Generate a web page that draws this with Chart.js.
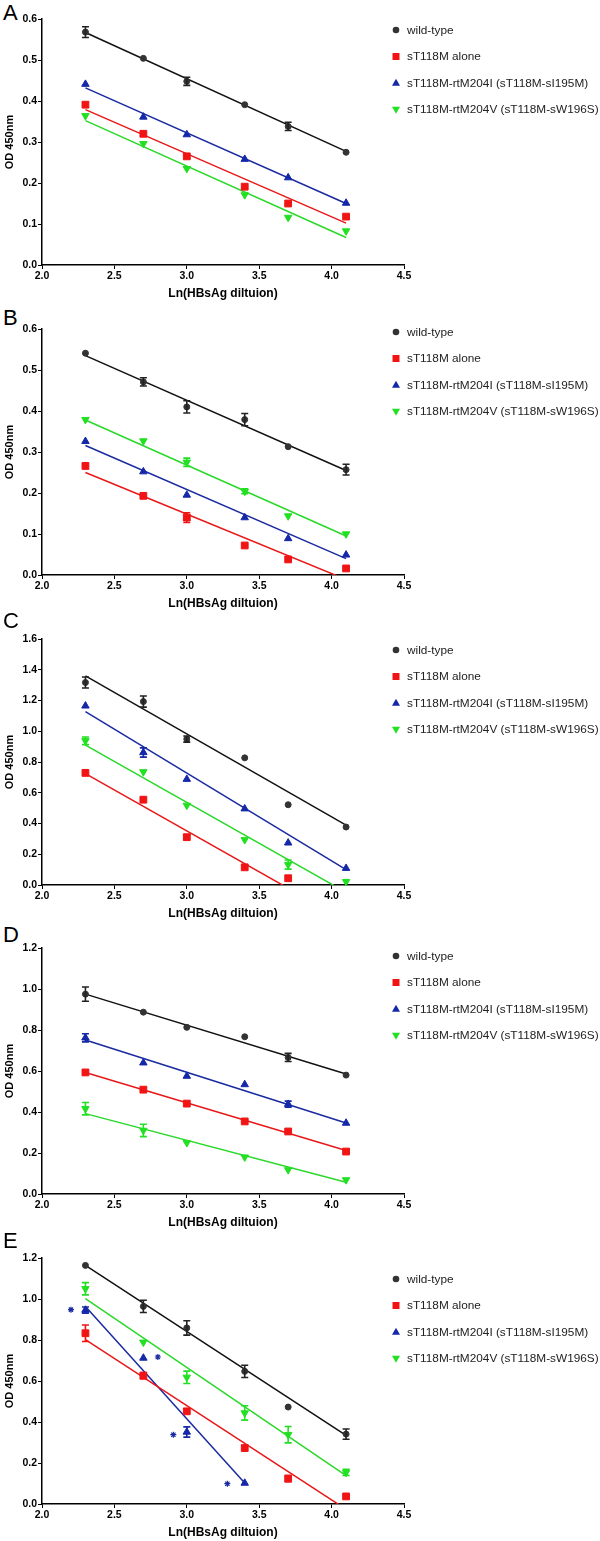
<!DOCTYPE html>
<html>
<head>
<meta charset="utf-8">
<script src="https://cdn.jsdelivr.net/npm/chart.js@4.4.1/dist/chart.umd.min.js"></script>
<style>
  body { margin: 0; background: #fff; width: 600px; height: 1541px; position: relative; overflow: hidden;
         font-family: "Liberation Sans", Arial, sans-serif; }
  .panel { position: absolute; left: 0; }
  .letter { position: absolute; left: 3px; font-size: 22px; line-height: 22px; color: #000; }
</style>
</head>
<body>
<script>
// ---- data ----
const xValues = [2.3, 2.7, 3.0, 3.4, 3.7, 4.1];
const seriesNames = ['wild-type', 'sT118M alone', 'sT118M-rtM204I (sT118M-sI195M)', 'sT118M-rtM204V (sT118M-sW196S)'];
const panelLetters = ['A', 'B', 'C', 'D', 'E'];
const yMaxByPanel = [0.6, 0.6, 1.6, 1.2, 1.2];
const yStepByPanel = [0.1, 0.1, 0.2, 0.2, 0.2];
const xTicks = [2.0, 2.5, 3.0, 3.5, 4.0, 4.5];

// one row per panel (A..E), one value per dilution
const wildType = [
  [0.568, 0.504, 0.448, 0.391, 0.338, 0.275],
  [0.541, 0.471, 0.410, 0.379, 0.313, 0.257],
  [1.317, 1.193, 0.949, 0.827, 0.522, 0.377],
  [0.975, 0.887, 0.813, 0.767, 0.666, 0.580],
  [1.164, 0.964, 0.859, 0.647, 0.473, 0.341]
];
const wildTypeErr = [
  [0.013, 0, 0.010, 0, 0.010, 0],
  [0, 0.010, 0.015, 0.015, 0, 0.013],
  [0.036, 0.036, 0.020, 0, 0, 0],
  [0.035, 0, 0, 0, 0.020, 0],
  [0, 0.030, 0.035, 0.030, 0, 0.025]
];
const alone = [
  [0.391, 0.320, 0.265, 0.191, 0.150, 0.118],
  [0.266, 0.193, 0.140, 0.072, 0.038, 0.016],
  [0.729, 0.555, 0.311, 0.115, 0.044, null],
  [0.593, 0.509, 0.441, 0.354, 0.305, 0.207],
  [0.833, 0.626, 0.452, 0.273, 0.124, 0.037]
];
const aloneErr = [
  [0, 0, 0, 0, 0, 0],
  [0, 0, 0.012, 0, 0, 0],
  [0, 0, 0.015, 0, 0, 0],
  [0, 0, 0, 0, 0, 0],
  [0.040, 0.015, 0, 0, 0.015, 0]
];
const rtM204I = [
  [0.441, 0.361, 0.318, 0.258, 0.213, 0.151],
  [0.326, 0.252, 0.195, 0.140, 0.089, 0.049],
  [1.165, 0.862, 0.688, 0.496, 0.274, 0.109],
  [0.762, 0.640, 0.575, 0.534, 0.438, 0.346],
  [0.946, 0.712, 0.351, 0.102, null, null]
];
const rtM204IErr = [
  [0, 0, 0, 0, 0, 0],
  [0, 0, 0, 0, 0, 0],
  [0, 0.030, 0, 0, 0, 0],
  [0.020, 0, 0, 0, 0.015, 0],
  [0.015, 0, 0.025, 0, 0, 0]
];
const rtM204V = [
  [0.364, 0.296, 0.235, 0.171, 0.116, 0.083],
  [0.379, 0.327, 0.275, 0.204, 0.144, 0.100],
  [0.938, 0.736, 0.518, 0.294, 0.133, 0.022],
  [0.416, 0.310, 0.250, 0.180, 0.118, 0.069],
  [1.050, 0.789, 0.618, 0.444, 0.338, 0.154]
];
const rtM204VErr = [
  [0, 0, 0, 0, 0, 0],
  [0, 0, 0.010, 0.006, 0, 0],
  [0.025, 0, 0, 0, 0.030, 0],
  [0.030, 0.030, 0, 0, 0, 0],
  [0.030, 0, 0.030, 0.035, 0.040, 0.015]
];

// fitted lines: [x start, y start, x end, y end]
const wildTypeFit = [[2.3, 0.567, 4.1, 0.277], [2.3, 0.535, 4.1, 0.255], [2.3, 1.36, 4.1, 0.39], [2.3, 0.975, 4.1, 0.585], [2.3, 1.164, 4.1, 0.335]];
const aloneFit = [[2.3, 0.379, 4.1, 0.102], [2.3, 0.25, 4.1, -0.011], [2.3, 0.725, 4.1, -0.234], [2.3, 0.593, 4.1, 0.212], [2.3, 0.802, 4.1, -0.026]];
const rtM204IFit = [[2.3, 0.432, 4.1, 0.150], [2.3, 0.316, 4.1, 0.040], [2.3, 1.128, 4.1, 0.100], [2.3, 0.751, 4.1, 0.346], [2.3, 0.964, 3.4, 0.102]];
const rtM204VFit = [[2.3, 0.352, 4.1, 0.067], [2.3, 0.378, 4.1, 0.095], [2.3, 0.91, 4.1, -0.048], [2.3, 0.392, 4.1, 0.057], [2.3, 1.002, 4.1, 0.138]];

// significance asterisks, panel E only
const starX = [2.20, 2.80, 2.907, 3.28];
const starY = [0.948, 0.717, 0.338, 0.099];

// ---- styling / layout ----
const markerColors = ['#333333', '#f01414', '#1428a8', '#22e022'];
const lineColors = ['#111111', '#e81818', '#1a2aa0', '#2ad82a'];
const pointStyles = ['circle', 'rect', 'triangle', 'triangle'];
const pointRotations = [0, 0, 0, 180];
const pointRadii = [3, 4.8, 4.3, 4.3];
const canvasTops = [0, 310, 620, 929, 1239];
const letterTops = [2, 307, 610, 924, 1230];
const legendTops = [30, 22, 30, 27, 40];

const allValues = [wildType, alone, rtM204I, rtM204V];
const allErrs = [wildTypeErr, aloneErr, rtM204IErr, rtM204VErr];
const allFits = [wildTypeFit, aloneFit, rtM204IFit, rtM204VFit];

function drawMarker(ctx, k, x, y) {
  ctx.save();
  ctx.fillStyle = markerColors[k];
  ctx.beginPath();
  if (k === 0) {
    ctx.arc(x, y, 3.3, 0, Math.PI * 2);
  } else if (k === 1) {
    ctx.rect(x - 3.5, y - 3.5, 7, 7);
  } else if (k === 2) {
    ctx.moveTo(x, y - 4.2); ctx.lineTo(x + 4, y + 2.8); ctx.lineTo(x - 4, y + 2.8);
  } else {
    ctx.moveTo(x, y + 4.2); ctx.lineTo(x + 4, y - 2.8); ctx.lineTo(x - 4, y - 2.8);
  }
  ctx.closePath();
  ctx.fill();
  ctx.restore();
}

const errorBarPlugin = {
  id: 'errorBars',
  afterDatasetsDraw(chart) {
    const ctx = chart.ctx;
    const xs = chart.scales.x, ys = chart.scales.y;
    chart.data.datasets.forEach(ds => {
      if (!ds.errors) return;
      ctx.save();
      ctx.strokeStyle = ds.errColor;
      ctx.lineWidth = 1.6;
      ds.data.forEach((pt, i) => {
        const e = ds.errors[i];
        if (pt.y === null || !e) return;
        const px = xs.getPixelForValue(pt.x);
        const top = ys.getPixelForValue(pt.y + e);
        const bot = ys.getPixelForValue(pt.y - e);
        ctx.beginPath();
        ctx.moveTo(px, top); ctx.lineTo(px, bot);
        ctx.moveTo(px - 3.5, top); ctx.lineTo(px + 3.5, top);
        ctx.moveTo(px - 3.5, bot); ctx.lineTo(px + 3.5, bot);
        ctx.stroke();
      });
      ctx.restore();
    });
  }
};

const sideLegendPlugin = {
  id: 'sideLegend',
  afterDraw(chart) {
    const ctx = chart.ctx;
    const top = chart.options.plugins.sideLegend.top;
    ctx.save();
    ctx.font = '11.8px "Liberation Sans", Arial, sans-serif';
    ctx.textBaseline = 'middle';
    seriesNames.forEach((name, k) => {
      const y = top + k * 26.5;
      drawMarker(ctx, k, 396, y);
      ctx.fillStyle = '#222';
      ctx.fillText(name, 407, y + 0.5);
    });
    ctx.restore();
  }
};

function buildPanel(p) {
  const letter = document.createElement('div');
  letter.className = 'letter';
  letter.style.top = letterTops[p] + 'px';
  letter.textContent = panelLetters[p];
  document.body.appendChild(letter);

  const canvas = document.createElement('canvas');
  canvas.className = 'panel';
  canvas.width = 600;
  canvas.height = 302;
  canvas.style.top = canvasTops[p] + 'px';
  document.body.appendChild(canvas);

  const datasets = [];
  for (let k = 0; k < 4; k++) {
    datasets.push({
      label: seriesNames[k],
      data: xValues.map((x, i) => ({x: x, y: allValues[k][p][i]})),
      errors: allErrs[k][p],
      errColor: k === 0 ? '#222' : markerColors[k],
      showLine: false,
      pointStyle: pointStyles[k],
      rotation: pointRotations[k],
      pointRadius: pointRadii[k],
      pointBorderWidth: 1,
      backgroundColor: markerColors[k],
      borderColor: markerColors[k],
      clip: false,
      order: 1
    });
  }
  for (let k = 0; k < 4; k++) {
    const f = allFits[k][p];
    datasets.push({
      label: seriesNames[k] + ' fit',
      data: [{x: f[0], y: f[1]}, {x: f[2], y: f[3]}],
      showLine: true,
      borderColor: lineColors[k],
      borderWidth: 1.5,
      pointRadius: 0,
      order: 2
    });
  }
  if (p === 4) {
    datasets.push({
      label: 'significance',
      data: starX.map((x, i) => ({x: x, y: starY[i]})),
      showLine: false,
      pointStyle: 'star',
      pointRadius: 3,
      borderColor: '#1a2aa0',
      borderWidth: 1.2,
      order: 0
    });
  }

  new Chart(canvas, {
    type: 'scatter',
    data: {datasets: datasets},
    options: {
      responsive: false,
      animation: false,
      layout: {padding: {left: 0, right: 196, top: 19, bottom: 0}},
      plugins: {
        legend: {display: false},
        tooltip: {enabled: false},
        sideLegend: {top: legendTops[p]}
      },
      scales: {
        x: {
          type: 'linear',
          min: 2.0,
          max: 4.5,
          afterBuildTicks: s => { s.ticks = xTicks.map(v => ({value: v})); },
          afterFit: s => { s.height = 37; },
          ticks: {
            callback: v => v.toFixed(1),
            font: {family: '"Liberation Sans", Arial, sans-serif', size: 10.5, weight: 'bold'},
            color: '#000',
            padding: 1,
            maxRotation: 0
          },
          grid: {display: true, drawOnChartArea: false, drawTicks: true, tickLength: 4, color: '#000', lineWidth: 1},
          border: {display: true, color: '#000', width: 1.5},
          title: {
            display: true,
            text: 'Ln(HBsAg diltuion)',
            font: {family: '"Liberation Sans", Arial, sans-serif', size: 12, weight: 'bold'},
            color: '#000',
            padding: {top: 0, bottom: 1}
          }
        },
        y: {
          type: 'linear',
          min: 0,
          max: yMaxByPanel[p],
          afterFit: s => { s.width = 42; },
          ticks: {
            stepSize: yStepByPanel[p],
            callback: v => v.toFixed(1),
            font: {family: '"Liberation Sans", Arial, sans-serif', size: 10.5, weight: 'bold'},
            color: '#000',
            padding: 1
          },
          grid: {display: true, drawOnChartArea: false, drawTicks: true, tickLength: 4, color: '#000', lineWidth: 1},
          border: {display: true, color: '#000', width: 1.5},
          title: {
            display: true,
            text: 'OD 450nm',
            font: {family: '"Liberation Sans", Arial, sans-serif', size: 11, weight: 'bold'},
            color: '#000',
            padding: {top: 3, bottom: 0}
          }
        }
      }
    },
    plugins: [errorBarPlugin, sideLegendPlugin]
  });
}

for (let p = 0; p < 5; p++) buildPanel(p);
</script>
</body>
</html>
